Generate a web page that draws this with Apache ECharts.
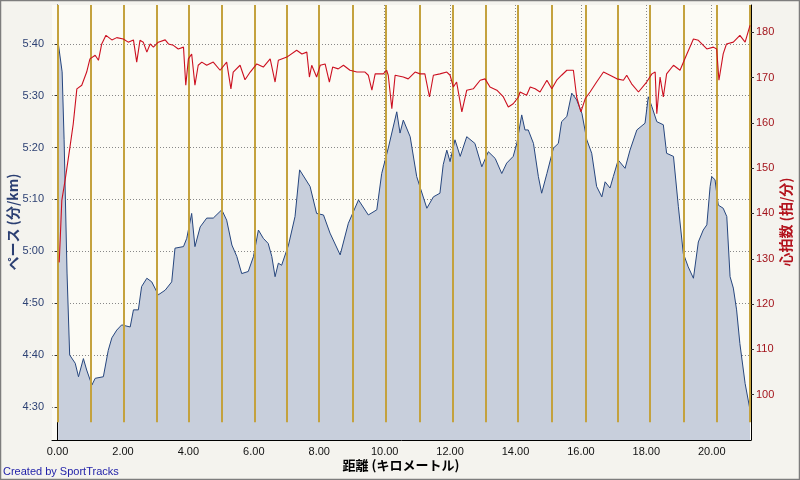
<!DOCTYPE html>
<html><head><meta charset="utf-8">
<script src="https://cdn.jsdelivr.net/npm/echarts@6/dist/echarts.min.js"></script>
<style>html,body{margin:0;padding:0;background:#F4F3EE}#c{width:800px;height:480px}</style>
</head><body><div id="c"></div>
<script>
// Pace (seconds per km) vs distance (km)
const paceKm  = [0.02,0.14,0.20,0.24,0.29,0.37,0.54,0.64,0.79,0.89,1.05,1.15,1.40,1.55,1.66,1.81,1.96,2.22,2.32,2.47,2.57,2.73,2.88,3.08,3.29,3.49,3.59,3.85,3.95,4.10,4.20,4.36,4.56,4.76,5.02,5.17,5.33,5.48,5.63,5.83,5.99,6.14,6.29,6.44,6.55,6.65,6.75,6.85,7.06,7.26,7.40,7.72,7.92,8.13,8.33,8.64,8.89,9.20,9.50,9.76,9.91,10.11,10.37,10.47,10.57,10.78,10.98,11.29,11.49,11.69,11.79,11.90,12.00,12.15,12.31,12.51,12.76,12.97,13.17,13.38,13.58,13.73,13.93,14.04,14.19,14.29,14.39,14.55,14.70,14.80,14.96,15.16,15.31,15.41,15.57,15.72,15.87,16.03,16.18,16.33,16.48,16.64,16.74,16.89,16.99,17.14,17.35,17.50,17.71,17.96,18.06,18.17,18.32,18.52,18.62,18.83,18.98,19.13,19.28,19.44,19.59,19.74,19.85,19.95,20.00,20.10,20.20,20.35,20.46,20.56,20.66,20.76,20.86,21.02,21.17];
const paceSec = [340.2,334.6,321.5,309.9,295.8,280.0,278.4,275.8,279.3,277.1,274.2,275.5,275.8,280.9,283.3,284.8,285.8,285.4,288.7,288.7,293.2,294.8,294.1,291.6,292.5,294.1,300.6,300.9,302.5,307.3,300.9,304.7,306.4,306.4,308.0,306.0,301.2,299.0,295.7,296.1,299.0,304.1,302.5,301.5,299.0,295.1,297.7,297.3,301.2,306.7,315.7,312.5,307.3,307.0,303.5,299.3,305.4,309.9,307.0,308.0,315.0,319.9,326.9,322.8,325.3,322.1,314.4,308.3,310.5,311.2,316.7,319.5,317.3,321.5,318.3,322.1,320.8,316.3,319.2,317.9,315.0,317.0,318.3,320.8,326.3,323.4,323.4,320.8,314.4,311.2,315.0,319.9,320.8,325.0,326.0,330.5,329.2,326.6,321.5,318.9,312.5,310.5,313.4,312.2,314.4,317.6,316.0,319.5,323.4,324.7,329.8,327.9,325.0,324.4,318.9,318.3,308.6,299.6,297.0,294.8,301.8,304.1,305.1,312.5,314.4,313.8,308.9,308.3,306.7,295.1,292.9,288.7,282.2,274.5,269.4];
// Heart rate (bpm) vs distance (km)
const hrKm  = [0.05,0.08,0.13,0.23,0.38,0.48,0.59,0.74,0.89,0.99,1.15,1.25,1.35,1.48,1.66,1.81,2.01,2.16,2.32,2.42,2.52,2.62,2.73,2.83,2.93,3.08,3.29,3.39,3.54,3.69,3.85,3.92,4.00,4.10,4.20,4.30,4.41,4.56,4.76,4.97,5.17,5.30,5.37,5.58,5.73,5.89,6.09,6.29,6.50,6.65,6.75,7.01,7.31,7.47,7.62,7.70,7.77,7.92,8.03,8.18,8.31,8.41,8.58,8.74,8.94,9.15,9.40,9.50,9.61,9.71,9.96,10.06,10.11,10.22,10.32,10.57,10.72,10.93,11.08,11.23,11.37,11.49,11.69,11.90,12.00,12.10,12.20,12.36,12.51,12.71,12.92,13.07,13.22,13.43,13.63,13.78,13.93,14.09,14.14,14.34,14.45,14.60,14.75,14.96,15.11,15.26,15.41,15.57,15.77,15.87,16.00,16.13,16.28,16.48,16.69,16.89,17.10,17.30,17.40,17.55,17.76,18.01,18.17,18.27,18.32,18.42,18.52,18.62,18.83,19.03,19.24,19.44,19.59,19.85,20.05,20.15,20.22,20.35,20.45,20.66,20.86,21.02,21.17];
const hrBpm = [129.2,134.1,142.9,147.3,154.7,159.8,167.5,168.3,171.2,174.1,174.9,173.8,177.4,179.3,178.3,178.8,178.5,177.8,178.3,173.4,178.2,177.8,175.6,177.4,176.7,177.8,178.3,177.4,177.1,176.3,176.7,168.3,174.1,175.2,168.3,172.7,173.4,172.7,173.4,171.6,173.4,167.5,171.2,172.7,169.5,171.2,173.0,172.3,174.1,169.0,173.8,174.5,176.0,175.2,175.6,170.1,172.7,170.1,172.7,173.0,169.0,172.3,171.9,172.7,171.6,171.2,171.2,170.5,167.2,170.8,170.8,171.6,170.5,163.1,170.5,170.1,169.7,171.2,170.8,170.8,165.7,170.5,170.8,171.2,170.5,167.9,169.0,162.4,167.2,167.5,169.4,169.7,167.9,167.2,165.7,163.5,164.2,165.7,166.8,166.1,167.9,167.5,166.8,169.4,167.5,169.4,170.5,171.6,171.6,165.7,162.4,165.3,166.8,169.0,171.2,170.5,169.7,169.4,170.5,168.6,166.8,169.0,170.8,171.2,162.0,170.1,165.7,170.8,172.7,171.6,175.2,178.5,178.2,176.3,176.7,176.3,169.4,175.2,177.4,177.8,179.3,177.8,181.5];
// Lap markers (km)
const lapKm = [0.02,1.01,2.01,3.02,4.00,5.03,6.02,7.00,8.00,9.02,10.04,11.06,12.08,13.09,14.06,15.11,16.15,17.13,18.09,19.13,20.15,21.15];

const xMin = -0.17, xMax = 21.2;
const paceMin = 263.6, paceMax = 347.5;
const hrMin = 90, hrMax = 186;
const lapBottom = 267;

const paceData = paceKm.map((k, i) => [k, paceSec[i]]);
const hrData = hrKm.map((k, i) => [k, hrBpm[i]]);
const lapLines = lapKm.map(k => [{coord: [k, lapBottom]}, {coord: [k, paceMax]}]);

function fmtPace(v) {
  const r = Math.round(v);
  if (Math.abs(v - r) > 0.01 || r % 10 !== 0) return '';
  const m = Math.floor(r / 60), s = r % 60;
  return m + ':' + (s < 10 ? '0' : '') + s;
}

const chart = echarts.init(document.getElementById('c'), null, {renderer: 'canvas'});
chart.setOption({
  animation: false,
  backgroundColor: '#F4F3EE',
  textStyle: {fontFamily: 'Liberation Sans'},
  grid: {left: 52, right: 49, top: 5, bottom: 40, show: true, backgroundColor: '#FCFBF5', borderWidth: 0},
  xAxis: {
    type: 'value', min: xMin, max: xMax, splitNumber: 10,
    axisLine: {show: true, onZero: false, lineStyle: {color: '#000', width: 1}},
    axisTick: {show: false},
    axisLabel: {color: '#111', fontSize: 11, margin: 6,
      formatter: v => (Math.abs(v / 2 - Math.round(v / 2)) < 0.001 ? v.toFixed(2) : '')},
    splitLine: {show: true, showMinLine: false, showMaxLine: false, lineStyle: {color: '#888', type: [1, 2], width: 1}}
  },
  yAxis: [{
    type: 'value', min: paceMin, max: paceMax, splitNumber: 8, position: 'left',
    axisLine: {show: true, lineStyle: {color: '#000', width: 1}},
    axisTick: {show: true, length: 3, lineStyle: {color: '#333'}},
    axisLabel: {color: '#2E4274', fontSize: 11, margin: 8, formatter: fmtPace, showMinLabel: false, showMaxLabel: false},
    splitLine: {show: true, showMinLine: false, showMaxLine: false, lineStyle: {color: '#888', type: [1, 2], width: 1}}
  }, {
    type: 'value', min: hrMin, max: hrMax, splitNumber: 9, position: 'right',
    axisLine: {show: true, lineStyle: {color: '#000', width: 1}},
    axisTick: {show: true, length: 3, lineStyle: {color: '#333'}},
    axisLabel: {color: '#A3141C', fontSize: 11, margin: 5, showMinLabel: false, showMaxLabel: false,
      formatter: v => (Math.abs(v % 10) < 0.01 && v >= 100 && v <= 180 ? String(Math.round(v)) : '')},
    splitLine: {show: false}
  }],
  graphic: [
    {type: 'text', x: 13, y: 222, rotation: Math.PI / 2,
     style: {text: 'ペース (分/km)', fill: '#2B3F72', font: 'bold 14px "Noto Sans CJK JP"', align: 'center', verticalAlign: 'middle'}},
    {type: 'text', x: 786, y: 222, rotation: Math.PI / 2,
     style: {text: '心拍数 (拍/分)', fill: '#B3121C', font: 'bold 14px "Noto Sans CJK JP"', align: 'center', verticalAlign: 'middle'}},
    {type: 'text', x: 401, y: 465,
     style: {text: '距離 (キロメートル)', fill: '#000', font: 'bold 13px "Noto Sans CJK JP"', align: 'center', verticalAlign: 'middle'}},
    {type: 'text', x: 3, y: 472,
     style: {text: 'Created by SportTracks', fill: '#1E1EA8', font: '11px "Liberation Sans"', align: 'left', verticalAlign: 'middle'}},
    {type: 'rect', shape: {x: 0.5, y: 0.5, width: 799, height: 479}, style: {fill: 'none', stroke: '#7d7d7d', lineWidth: 1.5}, silent: true}
  ],
  series: [{
    name: 'pace', type: 'line', yAxisIndex: 0, data: paceData, showSymbol: false, symbol: 'none',
    lineStyle: {color: '#26467E', width: 1},
    areaStyle: {color: '#C8CFDC', opacity: 1, origin: 'start'},
    z: 2,
    markLine: {silent: true, symbol: ['none', 'none'], label: {show: false},
      lineStyle: {color: '#C4A23E', width: 2, type: 'solid'}, data: lapLines, z: 3}
  }, {
    name: 'hr', type: 'line', yAxisIndex: 1, data: hrData, showSymbol: false, symbol: 'none',
    lineStyle: {color: '#CC1020', width: 1.1}, z: 4
  }]
});
</script></body></html>
